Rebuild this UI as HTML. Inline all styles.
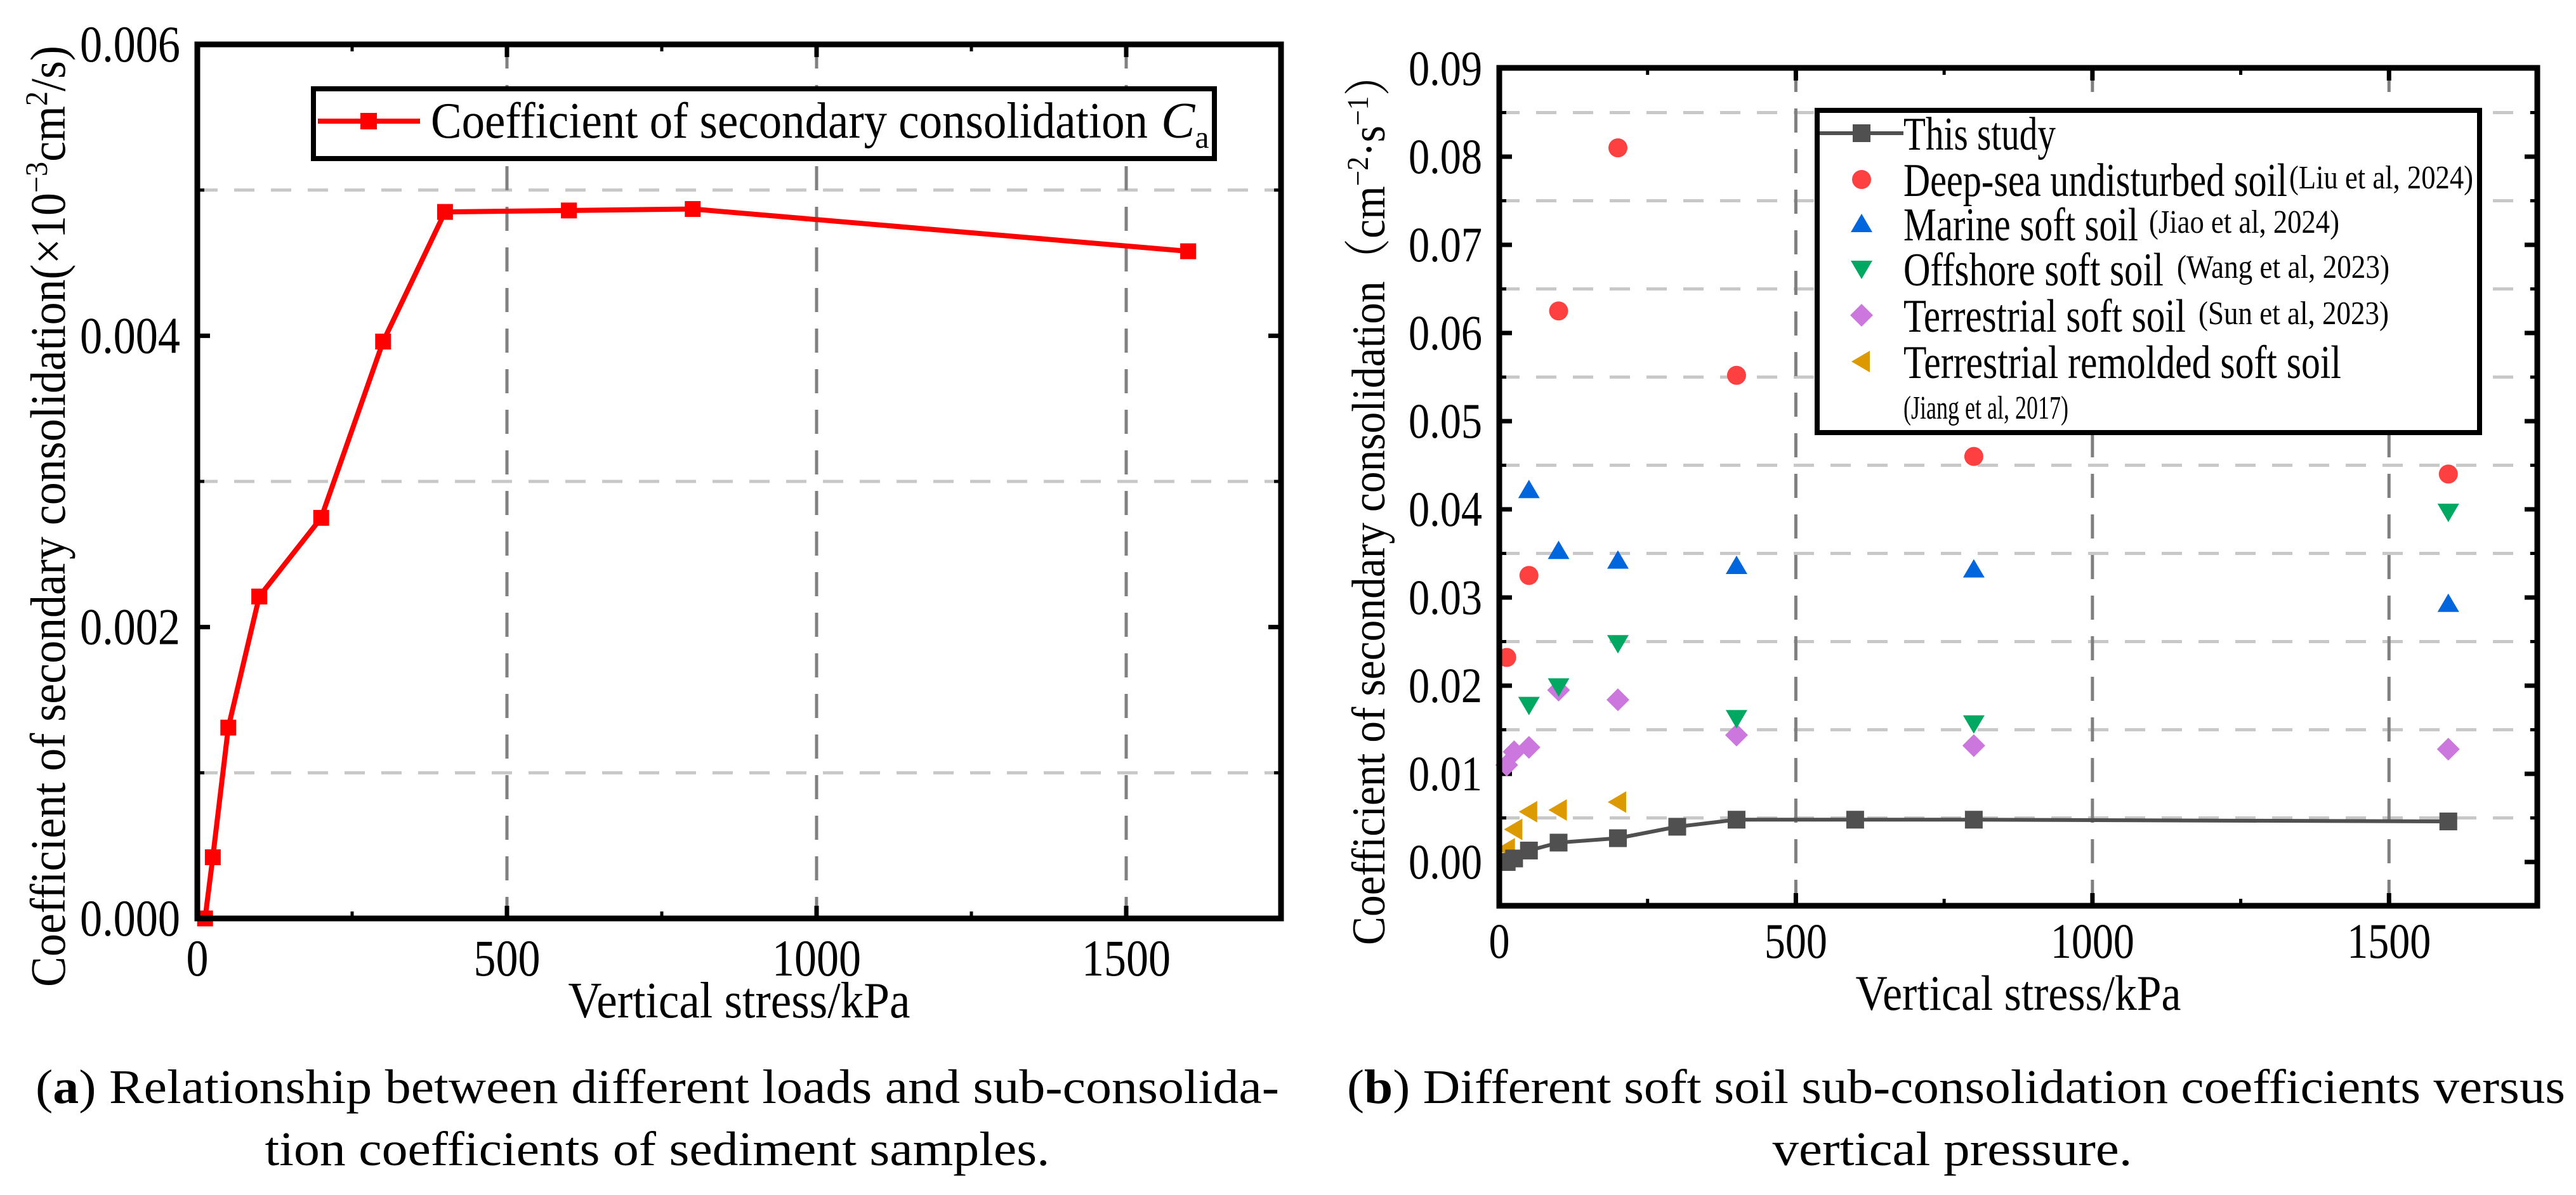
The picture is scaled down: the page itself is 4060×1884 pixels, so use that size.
<!DOCTYPE html>
<html><head><meta charset="utf-8"><style>
html,body{margin:0;padding:0;background:#fff}
svg{display:block}
text{font-family:"Liberation Serif","Noto Serif CJK SC",serif;fill:#000}
</style></head>
<body>
<svg id="fig" width="4060" height="1884" viewBox="0 0 4060 1884" xmlns="http://www.w3.org/2000/svg">
  <g id="chartA"></g>
  <g id="chartB"></g>
  <text x="1036" y="1739" font-size="76" text-anchor="middle" textLength="1960" lengthAdjust="spacingAndGlyphs">(<tspan font-weight="bold">a</tspan>) Relationship between different loads and sub-consolida-</text>
  <text x="1036" y="1837" font-size="76" text-anchor="middle" textLength="1237" lengthAdjust="spacingAndGlyphs">tion coefficients of sediment samples.</text>
  <text x="3083" y="1739" font-size="76" text-anchor="middle" textLength="1920" lengthAdjust="spacingAndGlyphs">(<tspan font-weight="bold">b</tspan>) Different soft soil sub-consolidation coefficients versus</text>
  <text x="3077" y="1837" font-size="76" text-anchor="middle" textLength="567" lengthAdjust="spacingAndGlyphs">vertical pressure.</text>
</svg>
<script>
// ---- Chart A data ----
const aStress = [12.5, 25, 50, 100, 200, 300, 400, 600, 800, 1600];
const aCoef = [0.0000, 0.00042, 0.00131, 0.00221, 0.00275, 0.00396, 0.00485, 0.00486, 0.00487, 0.00458];
const aYTicks = ["0.000", "0.002", "0.004", "0.006"];
const aXTicks = ["0", "500", "1000", "1500"];
// ---- Chart B data ----
const bStudyX = [12.5, 25, 50, 100, 200, 300, 400, 600, 800, 1600];
const bStudyY = [0.0000, 0.0004, 0.0013, 0.0022, 0.0027, 0.0040, 0.0048, 0.0048, 0.0048, 0.0046];
const bDeepX = [12.5, 50, 100, 200, 400, 800, 1600];
const bDeepY = [0.0232, 0.0325, 0.0625, 0.0810, 0.0552, 0.0460, 0.0440];
const bMarineX = [50, 100, 200, 400, 800, 1600];
const bMarineY = [0.0422, 0.0353, 0.0342, 0.0336, 0.0332, 0.0293];
const bOffX = [50, 100, 200, 400, 800, 1600];
const bOffY = [0.0178, 0.0199, 0.0248, 0.0163, 0.0157, 0.0397];
const bTerrX = [12.5, 25, 50, 100, 200, 400, 800, 1600];
const bTerrY = [0.0110, 0.0125, 0.0130, 0.0195, 0.0184, 0.0144, 0.0132, 0.0128];
const bRemX = [12.5, 25, 50, 100, 200];
const bRemY = [0.0015, 0.0037, 0.0057, 0.0059, 0.0068];
const bYTicks = ["0.00","0.01","0.02","0.03","0.04","0.05","0.06","0.07","0.08","0.09"];
const bXTicks = ["0", "500", "1000", "1500"];

const NS = "http://www.w3.org/2000/svg";
function el(parent, tag, attrs) {
  const e = document.createElementNS(NS, tag);
  for (const k in attrs) e.setAttribute(k, attrs[k]);
  parent.appendChild(e);
  return e;
}
function digitWidth(t, w) { return Math.round(t.length * w - (t.indexOf('.')>=0 ? w*0.5 : 0)); }

// ===== Chart A =====
(function(){
  const g = document.getElementById('chartA');
  const L=311, R=2019, T=70, B=1448;
  const xs = v => L + v/1750*(R-L);
  const ys = v => B - v/0.006*(B-T);
  [0.001,0.003,0.005].forEach(v=>{
    const l = el(g,'line',{x1:L,x2:R,y1:ys(v),y2:ys(v),stroke:'#c8c8c8','stroke-width':5,'stroke-dasharray':'32 26'});
    
    
  });
  [500,1000,1500].forEach(v=>{
    const l = el(g,'line',{x1:xs(v),x2:xs(v),y1:T,y2:B,stroke:'#808080','stroke-width':5,'stroke-dasharray':'38 26'});
    
    
  });
  aYTicks.forEach(t=>{
    const v=parseFloat(t), y=ys(v);
    el(g,'line',{x1:L,x2:L+20,y1:y,y2:y,stroke:'#000','stroke-width':7});
    el(g,'line',{x1:R,x2:R-20,y1:y,y2:y,stroke:'#000','stroke-width':7});
    const tx = el(g,'text',{x:284,y:y+27,'font-size':82,'text-anchor':'end',textLength:digitWidth(t,35),lengthAdjust:'spacingAndGlyphs'});
    tx.textContent=t;
    
    
  });
  [0.001,0.003,0.005].forEach(v=>{
    el(g,'line',{x1:L,x2:L+11,y1:ys(v),y2:ys(v),stroke:'#000','stroke-width':5});
    el(g,'line',{x1:R,x2:R-11,y1:ys(v),y2:ys(v),stroke:'#000','stroke-width':5});
  });
  aXTicks.forEach(t=>{
    const v=parseFloat(t), x=xs(v);
    el(g,'line',{x1:x,x2:x,y1:B,y2:B-20,stroke:'#000','stroke-width':7});
    el(g,'line',{x1:x,x2:x,y1:T,y2:T+20,stroke:'#000','stroke-width':7});
    const tx = el(g,'text',{x:x,y:1538,'font-size':82,'text-anchor':'middle',textLength:digitWidth(t,35),lengthAdjust:'spacingAndGlyphs'});
    tx.textContent=t;
    
    
  });
  [250,750,1250].forEach(v=>{
    el(g,'line',{x1:xs(v),x2:xs(v),y1:B,y2:B-11,stroke:'#000','stroke-width':5});
    el(g,'line',{x1:xs(v),x2:xs(v),y1:T,y2:T+11,stroke:'#000','stroke-width':5});
  });
  const pts = aStress.map((s,i)=>xs(s)+','+ys(aCoef[i])).join(' ');
  const pl = el(g,'polyline',{points:pts,fill:'none',stroke:'#ff0000','stroke-width':8,'stroke-linejoin':'round'});
  
  
  aStress.forEach((s,i)=>{
    const m = el(g,'rect',{x:xs(s)-12.5,y:ys(aCoef[i])-12.5,width:25,height:25,fill:'#ff0000'});
    
    
  });
  const fr = el(g,'rect',{x:L,y:T,width:R-L,height:B-T,fill:'none',stroke:'#000','stroke-width':9});
  
  
  const lg = el(g,'g',{});
  
  
  el(lg,'rect',{x:494,y:140,width:1420,height:110,fill:'#fff',stroke:'#000','stroke-width':8});
  el(lg,'line',{x1:501,x2:662,y1:191,y2:191,stroke:'#ff0000','stroke-width':8});
  el(lg,'rect',{x:568,y:178,width:26,height:26,fill:'#ff0000'});
  const lt = el(lg,'text',{x:679,y:217,'font-size':80,textLength:1130,lengthAdjust:'spacingAndGlyphs'});
  lt.textContent='Coefficient of secondary consolidation';
  
  
  const lc = el(lg,'text',{x:1830,y:217,'font-size':80,'font-style':'italic'});
  lc.innerHTML='C<tspan font-size="50" font-style="normal" dy="16">a</tspan>';
  
  
  const xt = el(g,'text',{x:1165,y:1604,'font-size':80,'text-anchor':'middle',textLength:539,lengthAdjust:'spacingAndGlyphs'});
  xt.textContent='Vertical stress/kPa';
  
  
  const yt = el(g,'text',{x:0,y:0,'font-size':78,'text-anchor':'middle',transform:'translate(102,814) rotate(-90)',textLength:1484,lengthAdjust:'spacingAndGlyphs'});
  yt.innerHTML='Coefficient of secondary consolidation(×10<tspan font-size="50" dy="-28">−3</tspan><tspan dy="28">cm</tspan><tspan font-size="50" dy="-28">2</tspan><tspan dy="28">/s)</tspan>';
  
  
})();

// ===== Chart B =====
(function(){
  const g = document.getElementById('chartB');
  const L=2363, R=3999, T=107, B=1428;
  const xs = v => L + v/1750*(R-L);
  const ys = v => 1359 - v/0.01*139;
  [0.005,0.015,0.025,0.035,0.045,0.055,0.065,0.075,0.085].forEach(v=>{
    const l = el(g,'line',{x1:L,x2:R,y1:ys(v),y2:ys(v),stroke:'#c8c8c8','stroke-width':5,'stroke-dasharray':'32 26'});
    
    
    el(g,'line',{x1:L,x2:L+11,y1:ys(v),y2:ys(v),stroke:'#000','stroke-width':5});
    el(g,'line',{x1:R,x2:R-11,y1:ys(v),y2:ys(v),stroke:'#000','stroke-width':5});
  });
  [500,1000,1500].forEach(v=>{
    const l = el(g,'line',{x1:xs(v),x2:xs(v),y1:T,y2:B,stroke:'#808080','stroke-width':5,'stroke-dasharray':'38 26'});
    
    
  });
  bYTicks.forEach(t=>{
    const v=parseFloat(t), y=ys(v);
    el(g,'line',{x1:L,x2:L+20,y1:y,y2:y,stroke:'#000','stroke-width':7});
    el(g,'line',{x1:R,x2:R-20,y1:y,y2:y,stroke:'#000','stroke-width':7});
    const tx = el(g,'text',{x:2336,y:y+26,'font-size':78,'text-anchor':'end',textLength:digitWidth(t,33),lengthAdjust:'spacingAndGlyphs'});
    tx.textContent=t;
    
    
  });
  bXTicks.forEach(t=>{
    const v=parseFloat(t), x=xs(v);
    el(g,'line',{x1:x,x2:x,y1:B,y2:B-20,stroke:'#000','stroke-width':7});
    el(g,'line',{x1:x,x2:x,y1:T,y2:T+20,stroke:'#000','stroke-width':7});
    const tx = el(g,'text',{x:x,y:1510,'font-size':78,'text-anchor':'middle',textLength:digitWidth(t,33),lengthAdjust:'spacingAndGlyphs'});
    tx.textContent=t;
    
    
  });
  [250,750,1250].forEach(v=>{
    el(g,'line',{x1:xs(v),x2:xs(v),y1:B,y2:B-11,stroke:'#000','stroke-width':5});
    el(g,'line',{x1:xs(v),x2:xs(v),y1:T,y2:T+11,stroke:'#000','stroke-width':5});
  });
  function circ(x,y,name){ const c=el(g,'circle',{cx:x,cy:y,r:15,fill:'#ff4040'});   }
  function tri(x,y,name,up,col){ const s=17; const p = up ? `${x},${y-16} ${x-s},${y+13} ${x+s},${y+13}` : `${x},${y+16} ${x-s},${y-13} ${x+s},${y-13}`; const t=el(g,'polygon',{points:p,fill:col});   }
  function dia(x,y,name){ const t=el(g,'polygon',{points:`${x},${y-18} ${x+18},${y} ${x},${y+18} ${x-18},${y}`,fill:'#cc77dd'});   }
  function left(x,y,name){ const t=el(g,'polygon',{points:`${x-16},${y} ${x+13},${y-17} ${x+13},${y+17}`,fill:'#dd9900'});   }
  bRemX.forEach((s,i)=>left(xs(s),ys(bRemY[i]),'remolded-point'));
  bTerrX.forEach((s,i)=>dia(xs(s),ys(bTerrY[i]),'terrestrial-point'));
  bOffX.forEach((s,i)=>tri(xs(s),ys(bOffY[i]),'offshore-point',false,'#00a862'));
  bMarineX.forEach((s,i)=>tri(xs(s),ys(bMarineY[i]),'marine-point',true,'#0066dd'));
  bDeepX.forEach((s,i)=>circ(xs(s),ys(bDeepY[i]),'deep-sea-point'));
  const pl = el(g,'polyline',{points:bStudyX.map((s,i)=>xs(s)+','+ys(bStudyY[i])).join(' '),fill:'none',stroke:'#505050','stroke-width':6});
  
  
  bStudyX.forEach((s,i)=>{
    const m=el(g,'rect',{x:xs(s)-14,y:ys(bStudyY[i])-14,width:28,height:28,fill:'#505050'});
    
    
  });
  const fr = el(g,'rect',{x:L,y:T,width:R-L,height:B-T,fill:'none',stroke:'#000','stroke-width':9});
  
  
  const lg = el(g,'g',{});
  
  
  el(lg,'rect',{x:2864,y:174,width:1044,height:508,fill:'#fff',stroke:'#000','stroke-width':8});
  const rows=[210,283,353,424,497,570];
  el(lg,'line',{x1:2868,x2:3000,y1:rows[0],y2:rows[0],stroke:'#505050','stroke-width':6});
  el(lg,'rect',{x:2920,y:rows[0]-14,width:28,height:28,fill:'#505050'});
  el(lg,'circle',{cx:2934,cy:rows[1],r:15,fill:'#ff4040'});
  el(lg,'polygon',{points:`2934,${rows[2]-16} 2917,${rows[2]+13} 2951,${rows[2]+13}`,fill:'#0066dd'});
  el(lg,'polygon',{points:`2934,${rows[3]+16} 2917,${rows[3]-13} 2951,${rows[3]-13}`,fill:'#00a862'});
  el(lg,'polygon',{points:`2934,${rows[4]-18} 2952,${rows[4]} 2934,${rows[4]+18} 2916,${rows[4]}`,fill:'#cc77dd'});
  el(lg,'polygon',{points:`2918,${rows[5]} 2947,${rows[5]-17} 2947,${rows[5]+17}`,fill:'#dd9900'});
  const labels=[
    ['This study',240,'',0,0],
    ['Deep-sea undisturbed soil',605,'(Liu et al, 2024)',3608,290],
    ['Marine soft soil',370,'(Jiao et al, 2024)',3387,300],
    ['Offshore soft soil',410,'(Wang et al, 2023)',3431,335],
    ['Terrestrial soft soil',445,'(Sun et al, 2023)',3465,300],
    ['Terrestrial remolded soft soil',690,'',0,0]
  ];
  labels.forEach((l,i)=>{
    const t=el(lg,'text',{x:3000,y:rows[i]+26,'font-size':74,textLength:l[1],lengthAdjust:'spacingAndGlyphs'});
    t.textContent=l[0];
    
    
    if(l[2]){
      const c=el(lg,'text',{x:l[3],y:rows[i]+14,'font-size':52,textLength:l[4],lengthAdjust:'spacingAndGlyphs'});
      c.textContent=l[2];
      
      
    }
  });
  const jt=el(lg,'text',{x:3000,y:660,'font-size':52,textLength:260,lengthAdjust:'spacingAndGlyphs'});
  jt.textContent='(Jiang et al, 2017)';
  
  
  const xt = el(g,'text',{x:3181,y:1592,'font-size':78,'text-anchor':'middle',textLength:513,lengthAdjust:'spacingAndGlyphs'});
  xt.textContent='Vertical stress/kPa';
  
  
  const yt = el(g,'text',{x:0,y:0,'font-size':74,'text-anchor':'middle',transform:'translate(2182,787) rotate(-90)',textLength:1406,lengthAdjust:'spacingAndGlyphs'});
  yt.innerHTML='Coefficient of secondary consolidation（cm<tspan font-size="48" dy="-26">−2</tspan><tspan dy="26">·s</tspan><tspan font-size="48" dy="-26">−1</tspan><tspan dy="26">）</tspan>';
  
  
})();
</script>
</body></html>
